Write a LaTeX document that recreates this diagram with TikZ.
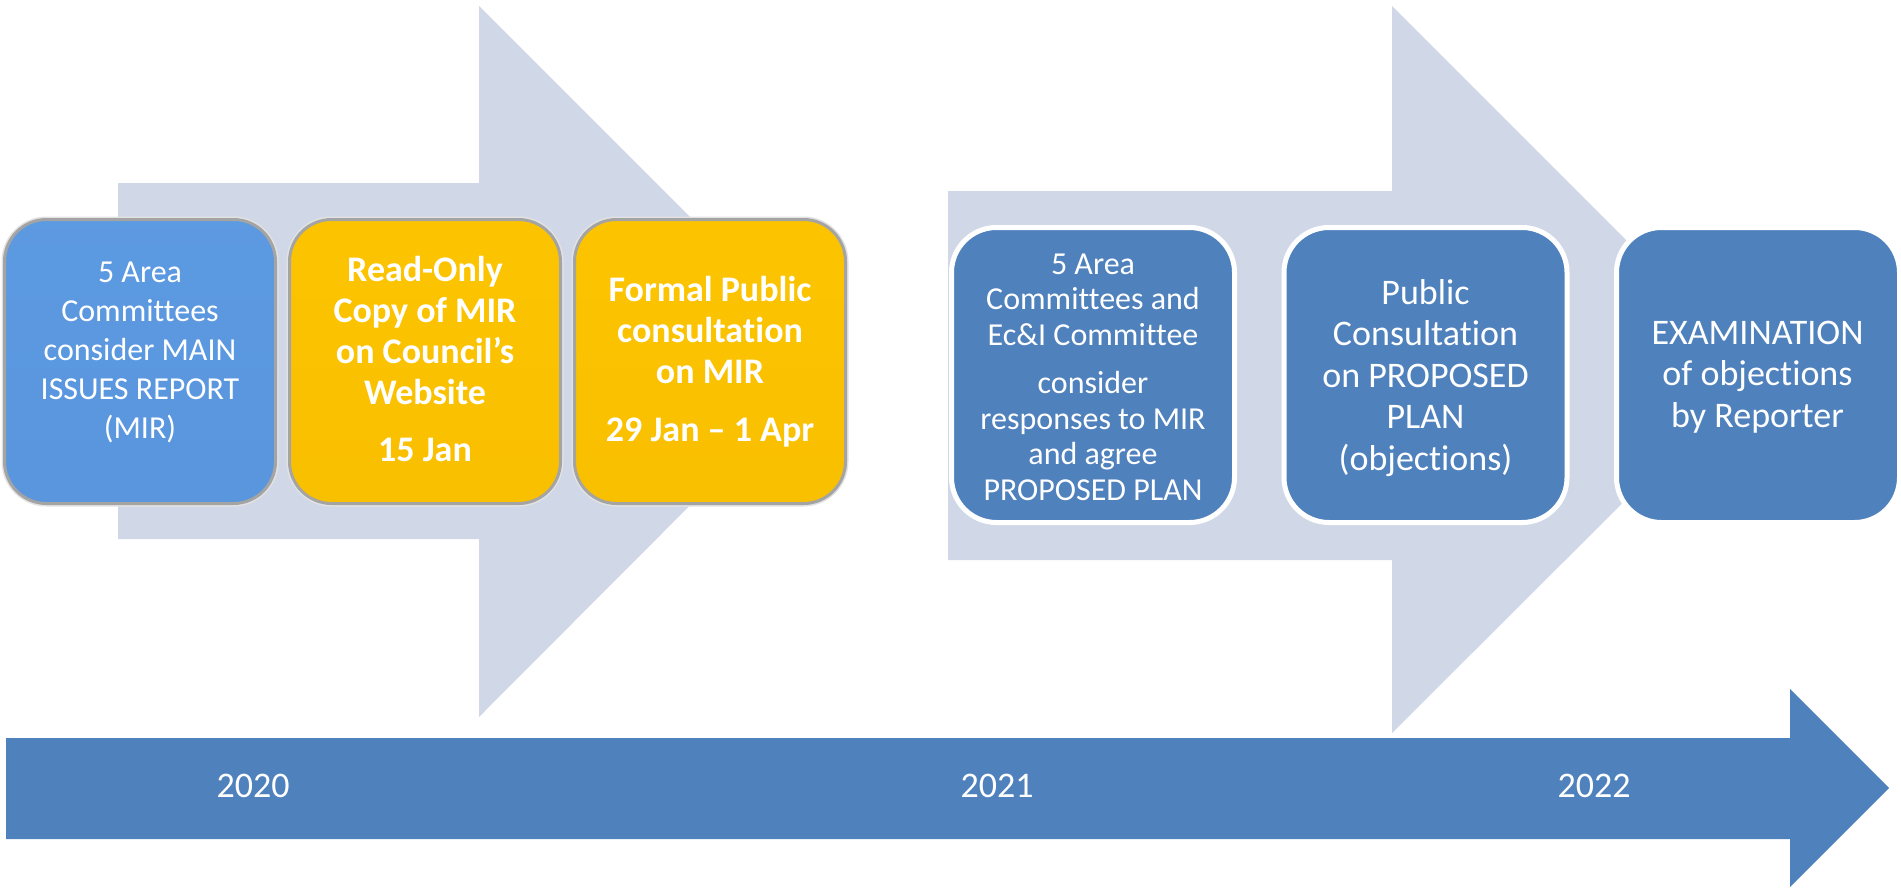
\documentclass[tikz,border=0pt]{standalone}
\usepackage{fontspec}
\setmainfont{Carlito}[Ligatures=NoCommon]
\definecolor{lightarrow}{HTML}{D0D8E8}
\definecolor{darkblue}{HTML}{4F81BD}
\definecolor{rimgrey}{HTML}{A4A4A4}
\definecolor{glowgrey}{HTML}{E2E2E2}
\definecolor{blueA}{RGB}{74,126,194}
\definecolor{blueB}{RGB}{88,148,220}
\definecolor{blueC}{RGB}{92,154,226}
\definecolor{blueD}{RGB}{122,180,242}
\definecolor{blueE}{RGB}{104,164,232}
\definecolor{goldA}{RGB}{222,162,0}
\definecolor{goldB}{RGB}{248,190,0}
\definecolor{goldC}{RGB}{252,196,0}
\definecolor{goldD}{RGB}{255,222,40}
\definecolor{goldE}{RGB}{253,206,10}
\pgfdeclareverticalshading{bluebevel}{100bp}{color(0bp)=(blueA); color(5bp)=(blueB); color(80bp)=(blueC); color(92bp)=(blueD); color(100bp)=(blueE)}
\pgfdeclareverticalshading{goldbevel}{100bp}{color(0bp)=(goldA); color(5bp)=(goldB); color(80bp)=(goldC); color(92bp)=(goldD); color(100bp)=(goldE)}
\begin{document}
\begin{tikzpicture}[x=1pt,y=-1pt,
  bevelbox/.style={rounded corners=42pt, minimum width=271pt, minimum height=284pt, draw=rimgrey, line width=3pt, inner sep=0pt,
    preaction={draw=glowgrey, line width=6pt}},
  bluebev/.style={bevelbox, shading=bluebevel},
  goldbev/.style={bevelbox, shading=goldbevel},
  flatbox/.style={rounded corners=45pt, minimum width=283pt, minimum height=295pt, fill=darkblue, draw=white, line width=5pt, inner sep=0pt},
  txt/.style={text=white, align=center, inner sep=0pt},
  regtext/.style={txt, font=\fontsize{32}{39}\selectfont},
  boldtext/.style={txt, font=\fontsize{36}{41}\selectfont\bfseries},
  bigtext/.style={txt, font=\fontsize{36}{41.5}\selectfont},
  smalltext/.style={txt, font=\fontsize{32}{35.5}\selectfont},
  yeartext/.style={txt, font=\fontsize{36}{40}\selectfont}
]
\useasboundingbox (0,0) rectangle (1901,887);
% background light arrows
\fill[lightarrow] (118,183) -- (479,183) -- (479,6) -- (834,361) -- (479,717) -- (479,539) -- (118,539) -- cycle;
\fill[lightarrow] (948,191) -- (1392,191) -- (1392,6) -- (1756,370) -- (1392,733) -- (1392,560) -- (948,560) -- cycle;
% timeline arrow
\fill[darkblue] (6,738) -- (1790,738) -- (1790,689) -- (1889,788) -- (1790,887) -- (1790,839) -- (6,839) -- cycle;
\node[yeartext] (y1) at (253,786) {2020};
\node[yeartext] (y2) at (997,786) {2021};
\node[yeartext] (y3) at (1594,786) {2022};
% 2020 boxes
\node[bluebev] (b1) at (140,361.5) {};
\node[goldbev] (b2) at (425,361.5) {};
\node[goldbev] (b3) at (710,361.5) {};
\node[regtext] (t1) at (140,352) {5 Area\\Committees\\consider MAIN\\ISSUES REPORT\\(MIR)};
\node[boldtext] (t2) at (425,359) {Read-Only\\Copy of MIR\\on Council’s\\Website\\[16pt]15 Jan};
\node[boldtext] (t3) at (710,362) {Formal Public\\consultation\\on MIR\\[17pt]29 Jan – 1 Apr};
% 2021-2022 boxes
\node[flatbox] (b4) at (1093,375) {};
\node[flatbox] (b5) at (1425.5,375) {};
\node[flatbox] (b6) at (1758,375) {};
\node[smalltext] (t4) at (1093,377) {5 Area\\Committees and\\Ec\&I Committee\\[13pt]consider\\responses to MIR\\and agree\\PROPOSED PLAN};
\node[bigtext] (t5) at (1425.5,378) {Public\\Consultation\\on PROPOSED\\PLAN\\(objections)};
\node[bigtext] (t6) at (1757.5,377) {EXAMINATION\\of objections\\by Reporter};
\end{tikzpicture}
\end{document}
